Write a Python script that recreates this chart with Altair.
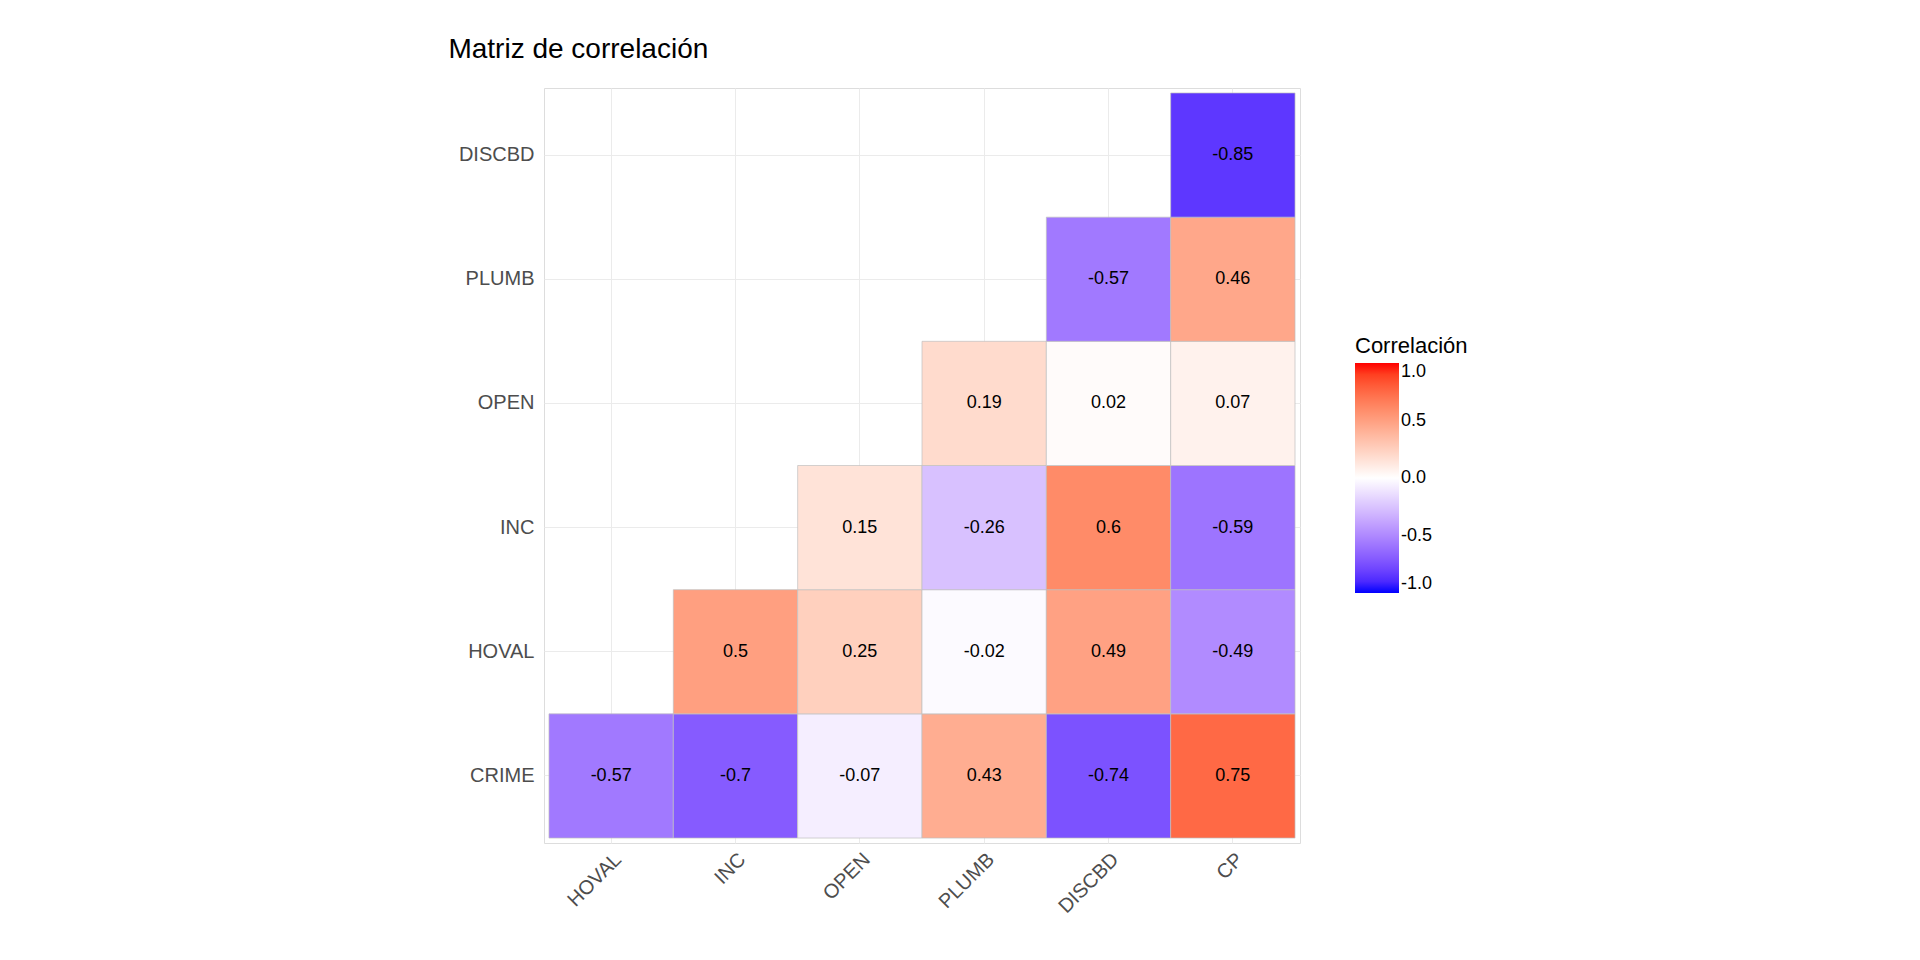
import altair as alt
import pandas as pd

cols = ["HOVAL", "INC", "OPEN", "PLUMB", "DISCBD", "CP"]
rows = ["CRIME", "HOVAL", "INC", "OPEN", "PLUMB", "DISCBD"]
crime = [-0.57, -0.7, -0.07, 0.43, -0.74, 0.75]
hoval = [None, 0.5, 0.25, -0.02, 0.49, -0.49]
inc = [None, None, 0.15, -0.26, 0.6, -0.59]
open_ = [None, None, None, 0.19, 0.02, 0.07]
plumb = [None, None, None, None, -0.57, 0.46]
discbd = [None, None, None, None, None, -0.85]

records = []
for r, vals in zip(rows, [crime, hoval, inc, open_, plumb, discbd]):
    for c, v in zip(cols, vals):
        if v is not None:
            records.append({"x": c, "y": r, "v": v, "lab": f"{v:g}"})
df = pd.DataFrame(records)

x = alt.X("x:N", sort=cols, title=None,
          scale=alt.Scale(paddingInner=0, paddingOuter=0.04),
          axis=alt.Axis(labelAngle=-45, labelAlign="right", labelBaseline="top",
                        labelFontSize=20, labelColor="#4d4d4d", ticks=False,
                        domain=False, grid=True, gridColor="#ebebeb", zindex=0,
                        bandPosition=0.5, labelPadding=6))
y = alt.Y("y:N", sort=rows[::-1], title=None,
          scale=alt.Scale(paddingInner=0, paddingOuter=0.04),
          axis=alt.Axis(labelFontSize=20, labelColor="#4d4d4d", ticks=False,
                        domain=False, grid=True, gridColor="#ebebeb", zindex=0,
                        bandPosition=0.5, labelPadding=10))

base = alt.Chart(df).encode(x=x, y=y)

tiles = base.mark_rect(stroke="#c0c0c0", strokeWidth=0.7).encode(
    color=alt.Color("v:Q", title="Correlación",
                    scale=alt.Scale(domain=[-1, 0, 1], range=["blue", "white", "red"],
                                    interpolate="lab"),
                    legend=alt.Legend(values=[-1, -0.5, 0, 0.5, 1], format=".1f",
                                      labelExpr="replace(datum.label, '\u2212', '-')",
                                      orient="none", legendX=811, legendY=248,
                                      gradientLength=230, gradientThickness=44,
                                      titleFontSize=22, titleFontWeight="normal",
                                      titleColor="black", labelFontSize=18,
                                      labelColor="black", gradientStrokeWidth=0))
)
labels = base.mark_text(fontSize=18, color="black").encode(text=alt.Text("lab:N"))

chart = (tiles + labels).properties(
    width=756, height=755,
    padding={"left": 440, "top": 28, "right": 10, "bottom": 10},
    title=alt.TitleParams("Matriz de correlación", anchor="start", fontSize=28,
                          fontWeight="normal", color="black", offset=24, dx=-10),
).configure_view(stroke=None, strokeWidth=0).configure(font="Liberation Sans")

chart.save("out.html", embed_options={"renderer": "svg", "actions": False})
